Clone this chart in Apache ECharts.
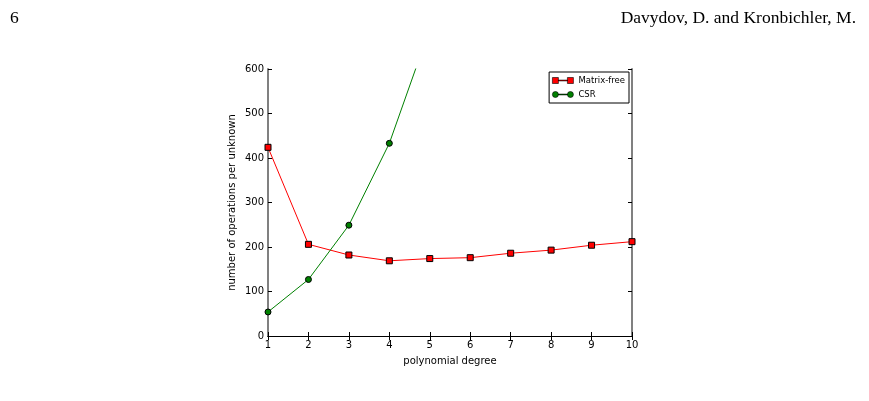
<!DOCTYPE html>
<html>
<head>
<meta charset="utf-8">
<script src="https://cdn.jsdelivr.net/npm/echarts@6/dist/echarts.min.js"></script>
<style>
  html, body { margin: 0; padding: 0; background: #fff; }
  #chart { width: 869px; height: 401px; }
</style>
</head>
<body>
<div id="chart"></div>
<script>
var degrees = [1, 2, 3, 4, 5, 6, 7, 8, 9, 10];
var matrixFree = [424, 206, 182, 169, 174, 176, 186, 193, 204, 212];
// CSR leaves the plot after degree 4; the degree-5 value is an estimate from the clipped line
var csr = [54, 127, 249, 433, 690];
var yTicks = [0, 100, 200, 300, 400, 500, 600];

var chart = echarts.init(document.getElementById('chart'));

function pairs(xs, ys) {
  return ys.map(function (v, i) { return [xs[i], v]; });
}

var tickStyle = { show: true, inside: true, length: 4, lineStyle: { color: '#000', width: 1 } };
var spineDark = { show: true, lineStyle: { color: '#000', width: 1 } };
var spineGrey = { show: true, lineStyle: { color: '#808080', width: 2 } };
var labelFont = { color: '#000', fontSize: 10, fontFamily: 'DejaVu Sans' };
var headFont = { fontFamily: 'Liberation Serif', fontSize: 17.5, fontWeight: 'normal', color: '#000' };

// legend glyphs: marker - line - marker, like matplotlib's numpoints=2
var squareIcon = 'path://M0,0h6v6h-6z M15,0h6v6h-6z M6,2.6h9v0.8h-9z';
var circleIcon = 'path://M0,3a3,3 0 1,0 6,0a3,3 0 1,0 -6,0z M15,3a3,3 0 1,0 6,0a3,3 0 1,0 -6,0z M6,2.6h9v0.8h-9z';

var option = {
  animation: false,
  title: [
    { text: '6', left: 5, top: 4, textStyle: headFont },
    { text: 'Davydov, D. and Kronbichler, M.', right: 8, top: 4, textStyle: headFont }
  ],
  grid: { left: 268, right: 237, top: 69, bottom: 65, containLabel: false },
  legend: {
    right: 240, top: 72,
    orient: 'vertical',
    backgroundColor: '#fff',
    borderColor: '#000', borderWidth: 1, borderRadius: 0,
    padding: [4, 4, 4, 3],
    itemGap: 5,
    itemWidth: 21, itemHeight: 6,
    textStyle: { fontSize: 8.5, fontFamily: 'DejaVu Sans', color: '#000', padding: [0, 0, 0, 0] },
    data: [
      { name: 'Matrix-free', icon: squareIcon, itemStyle: { color: '#ff0000', borderColor: '#000', borderWidth: 0.6 } },
      { name: 'CSR', icon: circleIcon, itemStyle: { color: '#008000', borderColor: '#000', borderWidth: 0.6 } }
    ]
  },
  xAxis: [
    {
      type: 'value', min: 1, max: 10, interval: 1,
      name: 'polynomial degree', nameLocation: 'middle', nameGap: 20,
      nameTextStyle: labelFont,
      axisLine: spineDark, axisTick: tickStyle,
      axisLabel: Object.assign({ margin: 4 }, labelFont),
      splitLine: { show: false }
    },
    {
      type: 'value', min: 1, max: 10, interval: 1, position: 'top',
      axisLine: spineDark, axisTick: tickStyle,
      axisLabel: { show: false }, splitLine: { show: false }
    }
  ],
  yAxis: [
    {
      type: 'value', min: yTicks[0], max: yTicks[yTicks.length - 1], interval: 100,
      name: 'number of operations per unknown', nameLocation: 'middle', nameGap: 31,
      nameTextStyle: labelFont,
      axisLine: spineGrey, axisTick: tickStyle,
      axisLabel: Object.assign({ margin: 4 }, labelFont),
      splitLine: { show: false }
    },
    {
      type: 'value', min: yTicks[0], max: yTicks[yTicks.length - 1], interval: 100, position: 'right',
      axisLine: spineGrey, axisTick: tickStyle,
      axisLabel: { show: false }, splitLine: { show: false }
    }
  ],
  series: [
    {
      name: 'Matrix-free', type: 'line',
      data: pairs(degrees, matrixFree),
      symbol: 'rect', symbolSize: 6,
      itemStyle: { color: '#ff0000', borderColor: '#000', borderWidth: 1 },
      lineStyle: { color: '#ff0000', width: 1 },
      clip: true
    },
    {
      name: 'CSR', type: 'line',
      data: pairs(degrees, csr),
      symbol: 'circle', symbolSize: 6,
      itemStyle: { color: '#008000', borderColor: '#000', borderWidth: 1 },
      lineStyle: { color: '#008000', width: 1 },
      clip: true
    }
  ]
};

chart.setOption(option);
window.addEventListener('resize', chart.resize);
</script>
</body>
</html>
